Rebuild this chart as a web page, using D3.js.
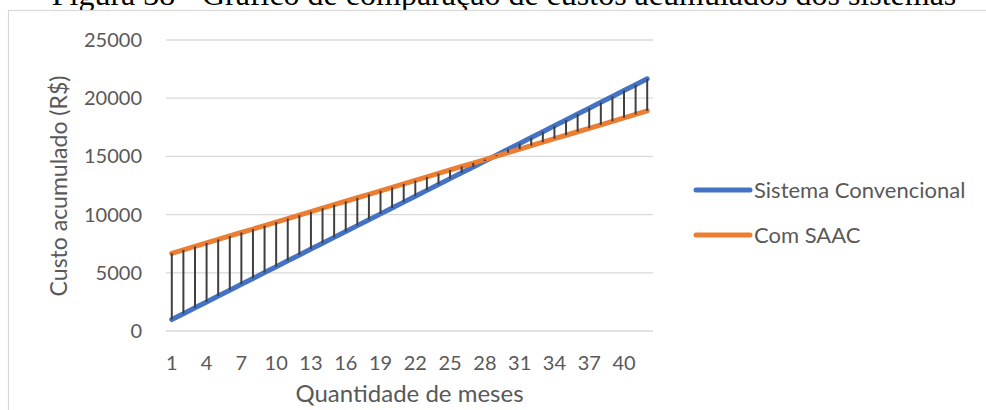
<!DOCTYPE html>
<html>
<head>
<meta charset="utf-8">
<script src="https://cdn.jsdelivr.net/npm/d3@7"></script>
<style>
  html, body { margin: 0; padding: 0; background: #ffffff; }
  svg { display: block; }
</style>
</head>
<body>
<svg id="chart" width="986" height="410"></svg>
<script>
// Meses (1..42)
const months = [1,2,3,4,5,6,7,8,9,10,11,12,13,14,15,16,17,18,19,20,21,
                22,23,24,25,26,27,28,29,30,31,32,33,34,35,36,37,38,39,40,41,42];

// Custo acumulado (R$) - Sistema Convencional
const convencional = [983,1487,1992,2496,3001,3505,4009,4514,5018,5523,6027,6531,7036,7540,
                      8045,8549,9053,9558,10062,10567,11071,11575,12080,12584,13089,13593,14097,14602,
                      15106,15611,16115,16619,17124,17628,18133,18637,19141,19646,20150,20655,21159,21664];

// Custo acumulado (R$) - Com SAAC
const comSaac = [6672,6970,7269,7567,7866,8164,8462,8761,9059,9358,9656,9954,10253,10551,
                 10850,11148,11446,11745,12043,12342,12640,12938,13237,13535,13834,14132,14430,14729,
                 15027,15326,15624,15922,16221,16519,16818,17116,17414,17713,18011,18310,18608,18906];

const yTicks = [0,5000,10000,15000,20000,25000];
const xTickLabels = [1,4,7,10,13,16,19,22,25,28,31,34,37,40];

const seriesNames = ["Sistema Convencional", "Com SAAC"];
const seriesColors = ["#4472C4", "#ED7D31"];

const caption = "Figura 38 - Gráfico de comparação de custos acumulados dos sistemas";

const svg = d3.select("#chart");
const font = "Lato, 'Open Sans', sans-serif";
const textColor = "#595959";

const plot = { left: 166, right: 653, top: 40, bottom: 331 };

const x = d3.scaleBand().domain(months).range([plot.left, plot.right]);
const y = d3.scaleLinear().domain([0, 25000]).range([plot.bottom, plot.top]);
const cx = m => x(m) + x.bandwidth() / 2;

// Caption above the chart frame
svg.append("text")
  .attr("x", 504).attr("y", 5)
  .attr("text-anchor", "middle")
  .attr("font-family", "'Liberation Serif', 'Times New Roman', serif")
  .attr("font-size", 32)
  .attr("fill", "#000")
  .text(caption);

// Chart frame
svg.append("rect")
  .attr("x", 8.5).attr("y", 10.5)
  .attr("width", 1000).attr("height", 420)
  .attr("fill", "#fff")
  .attr("stroke", "#d9d9d9").attr("stroke-width", 1.2);

// Horizontal gridlines
svg.append("g")
  .selectAll("line")
  .data(yTicks)
  .join("line")
  .attr("x1", plot.left).attr("x2", plot.right)
  .attr("y1", d => y(d)).attr("y2", d => y(d))
  .attr("stroke", "#d9d9d9").attr("stroke-width", 1.3);

// Y axis labels
const yAxis = d3.axisLeft(y).tickValues(yTicks).tickSize(0).tickPadding(0).tickFormat(d3.format("d"));
const gy = svg.append("g").attr("transform", `translate(142,0)`).call(yAxis);
gy.select(".domain").remove();
gy.selectAll("text")
  .attr("font-family", font).attr("font-size", 20).attr("fill", textColor);

// X axis labels (every third month)
const xAxis = d3.axisBottom(x).tickValues(xTickLabels).tickSize(0).tickPadding(0);
const gx = svg.append("g").attr("transform", `translate(0,${plot.bottom})`).call(xAxis);
gx.select(".domain").remove();
gx.selectAll("text")
  .attr("font-family", font).attr("font-size", 20).attr("fill", textColor)
  .attr("y", 39).attr("dy", "0");

// Axis titles
svg.append("text")
  .attr("transform", `translate(67,186) rotate(-90)`)
  .attr("text-anchor", "middle")
  .attr("font-family", font).attr("font-size", 23).attr("fill", textColor)
  .text("Custo acumulado (R$)");

svg.append("text")
  .attr("x", (plot.left + plot.right) / 2).attr("y", 402)
  .attr("text-anchor", "middle")
  .attr("font-family", font).attr("font-size", 24).attr("fill", textColor)
  .text("Quantidade de meses");

// Series lines
const line = d3.line().x((d, i) => cx(months[i])).y(d => y(d));
[convencional, comSaac].forEach((vals, k) => {
  svg.append("path")
    .datum(vals)
    .attr("d", line)
    .attr("fill", "none")
    .attr("stroke", seriesColors[k])
    .attr("stroke-width", 5)
    .attr("stroke-linecap", "round")
    .attr("stroke-linejoin", "round");
});

// High-low lines between the two series
svg.append("g")
  .selectAll("line")
  .data(months)
  .join("line")
  .attr("x1", d => cx(d)).attr("x2", d => cx(d))
  .attr("y1", (d, i) => y(convencional[i]))
  .attr("y2", (d, i) => y(comSaac[i]))
  .attr("stroke", "#404040").attr("stroke-width", 2);

// Legend
const legend = svg.append("g");
seriesNames.forEach((name, k) => {
  const ly = 190 + k * 45;
  legend.append("line")
    .attr("x1", 696).attr("x2", 750).attr("y1", ly).attr("y2", ly)
    .attr("stroke", seriesColors[k]).attr("stroke-width", 5).attr("stroke-linecap", "round");
  legend.append("text")
    .attr("x", 754).attr("y", ly).attr("dy", "0.35em")
    .attr("font-family", font).attr("font-size", 22).attr("fill", textColor)
    .text(name);
});
</script>
</body>
</html>
